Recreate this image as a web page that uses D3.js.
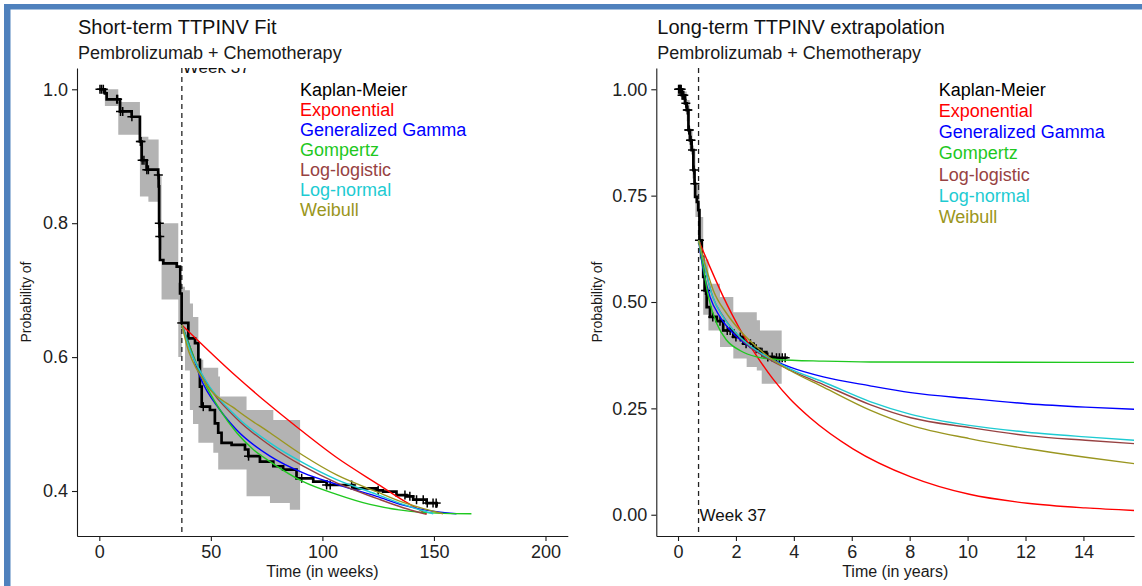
<!DOCTYPE html>
<html>
<head>
<meta charset="utf-8">
<title>TTPINV fit and extrapolation</title>
<script src="https://cdn.jsdelivr.net/npm/d3@7"></script>
<style>
  body { margin: 0; background: #fff; }
  svg { display: block; font-family: "Liberation Sans", Arial, sans-serif; }
  .axis path, .axis line { stroke: #1a1a1a; stroke-width: 1.1; }
  .axis text { font-size: 18px; fill: #222; font-family: "Liberation Sans", Arial, sans-serif; }
  .title { font-size: 20px; fill: #111; }
  .subtitle { font-size: 18px; fill: #1a1a1a; }
  .x-label { font-size: 16px; fill: #1a1a1a; text-anchor: middle; }
  .y-label { font-size: 14px; fill: #1a1a1a; text-anchor: middle; }
  .legend { font-size: 18px; }
  .band { fill: #b3b3b3; stroke: none; }
  .km { fill: none; stroke: #000; stroke-width: 2.7; }
  .censor { stroke: #000; stroke-width: 1.5; }
  .fit { fill: none; stroke-width: 1.4; }
  .cutoff { stroke: #222; stroke-width: 1.3; stroke-dasharray: 5,4; }
  .week-label { font-size: 17px; fill: #111; }
</style>
</head>
<body>
<svg id="chart"></svg>
<script>
// ---- shared ----
const modelNames = ["Exponential", "Generalized Gamma", "Gompertz", "Log-logistic", "Log-normal", "Weibull"];
const modelColors = ["#ff0000", "#0000ff", "#1fc81f", "#974242", "#1ecbd2", "#9a9620"];
const cutoffWeek = 37;
const weeksPerYear = 52.18;

// ---- left panel (weeks) ----
const leftKmTime = [0, 2.5, 3.3, 9.3, 14.5, 18.2, 19, 21.2, 26.4, 26.6, 26.8, 27.0, 27.2, 28.7, 34.7, 36.2, 36.9, 39.9, 42.9, 44.4, 45.1, 45.9, 49.6, 51.8, 53.3, 54.8, 59.3, 65.3, 66.8, 72, 78, 82.4, 88.4, 95.9, 101.9, 113.8, 124.3, 127.2, 133.2, 137.7, 140.7, 146.7, 151.2, 151.6];
const leftKmSurv = [1.0, 0.994, 0.985, 0.967, 0.959, 0.922, 0.894, 0.880, 0.872, 0.855, 0.80, 0.78, 0.745, 0.740, 0.735, 0.695, 0.651, 0.628, 0.621, 0.596, 0.556, 0.526, 0.521, 0.501, 0.487, 0.472, 0.469, 0.462, 0.452, 0.444, 0.437, 0.432, 0.419, 0.414, 0.409, 0.404, 0.401, 0.399, 0.394, 0.392, 0.387, 0.382, 0.377, 0.377];
const leftCensor = [0.3, 1.0, 1.8, 7.8, 8.2, 9.5, 10.5, 14.6, 18.4, 18.7, 19.2, 20.0, 21.3, 22.0, 26.45, 26.9, 27.1, 36.95, 46.6, 66.9, 90.7, 101.9, 103.5, 113.1, 125.0, 137.0, 139.2, 142.2, 145.2, 147.0, 149.6, 151.0];
const leftCiTime = [0, 2.5, 8.5, 18.2, 22, 26.6, 27.9, 35.4, 37, 38.4, 40.6, 42, 44.4, 46.6, 51.1, 53.3, 54.1, 66, 76.5, 78, 85.4, 90];
const leftCiLow = [1.0, 0.975, 0.932, 0.84, 0.832, 0.76, 0.686, 0.60, 0.64, 0.58, 0.521, 0.50, 0.472, 0.472, 0.457, 0.432, 0.432, 0.392, 0.382, 0.382, 0.372, 0.367];
const leftCiHigh = [1.0, 1.0, 0.981, 0.929, 0.925, 0.87, 0.80, 0.711, 0.705, 0.70, 0.68, 0.66, 0.596, 0.584, 0.584, 0.571, 0.541, 0.521, 0.521, 0.506, 0.506, 0.506];
const leftExponential = [[37, 0.648], [61.5, 0.571], [76.5, 0.528], [88.4, 0.496], [106.4, 0.450], [125.9, 0.408], [136.2, 0.386], [146.7, 0.366]];
const leftGenGamma = [[37, 0.648], [40.6, 0.616], [45.1, 0.571], [54.1, 0.521], [61.6, 0.491], [76.5, 0.452], [91.4, 0.427], [106.4, 0.410], [124.3, 0.392], [136.2, 0.379], [151.2, 0.369], [160.1, 0.366]];
const leftGompertz = [[37, 0.648], [40.6, 0.616], [46.6, 0.566], [54.1, 0.521], [61.6, 0.487], [69, 0.462], [76.5, 0.444], [91.4, 0.414], [106.4, 0.395], [121.3, 0.380], [136.2, 0.371], [151.2, 0.367], [166.8, 0.366]];
const leftLogLogistic = [[37, 0.648], [40.6, 0.612], [46.6, 0.570], [61.6, 0.508], [76.5, 0.468], [91.4, 0.437], [106.4, 0.412], [124.3, 0.389], [136.2, 0.375], [146.7, 0.365]];
const leftLogNormal = [[37, 0.648], [40.6, 0.611], [46.6, 0.571], [61.6, 0.511], [76.5, 0.472], [91.4, 0.442], [106.4, 0.417], [124.3, 0.395], [136.2, 0.380], [149.7, 0.366]];
const leftWeibull = [[37, 0.648], [39.2, 0.618], [46.6, 0.566], [61.6, 0.521], [76.5, 0.487], [91.4, 0.453], [106.4, 0.424], [124.3, 0.399], [136.2, 0.383], [154.1, 0.366]];
const leftXTicks = [0, 50, 100, 150, 200];
const leftYTicks = [0.4, 0.6, 0.8, 1.0];

// ---- right panel (years) ----
const rightKmTime = [0, 0.13, 0.24, 0.30, 0.36, 0.41, 0.47, 0.53, 0.57, 0.59, 0.65, 0.70, 0.74, 0.82, 0.87, 0.92, 0.99, 1.105, 1.34, 1.56, 1.91, 2.26, 2.60, 2.83, 3.05, 3.30, 3.75];
const rightKmSurv = [1.0, 0.986, 0.967, 0.951, 0.904, 0.880, 0.857, 0.810, 0.778, 0.747, 0.735, 0.716, 0.645, 0.606, 0.559, 0.527, 0.488, 0.465, 0.455, 0.433, 0.418, 0.402, 0.390, 0.382, 0.371, 0.369, 0.367];
const rightCensor = [0.02, 0.05, 0.08, 0.11, 0.14, 0.17, 0.2, 0.27, 0.32, 0.34, 0.37, 0.39, 0.43, 0.45, 0.5, 0.55, 0.58, 0.74, 0.95, 1.2, 1.45, 1.7, 1.8, 2.0, 2.15, 2.35, 2.5, 2.7, 2.9, 3.1, 3.25, 3.4, 3.5, 3.6, 3.7];
const rightCiTime = [0, 0.13, 0.3, 0.4, 0.5, 0.6, 0.74, 0.87, 1.05, 1.45, 1.91, 2.37, 2.72, 2.83, 2.89, 3.58];
const rightCiLow = [1.0, 0.975, 0.925, 0.855, 0.79, 0.70, 0.60, 0.47, 0.433, 0.394, 0.367, 0.347, 0.339, 0.339, 0.308, 0.308];
const rightCiHigh = [1.0, 0.995, 0.975, 0.905, 0.86, 0.78, 0.70, 0.60, 0.543, 0.512, 0.476, 0.476, 0.457, 0.433, 0.433, 0.433];
const rightExponential = [[0.71, 0.645], [1.105, 0.582], [1.565, 0.512], [2.14, 0.436], [2.72, 0.373], [3.29, 0.318], [3.87, 0.272], [4.56, 0.228], [6.04, 0.155], [8.04, 0.089], [10.06, 0.048], [12.07, 0.027], [14.07, 0.016], [15.75, 0.010]];
const rightGenGamma = [[0.71, 0.645], [0.87, 0.575], [1.105, 0.512], [1.45, 0.465], [1.91, 0.426], [2.49, 0.394], [3.18, 0.367], [3.87, 0.347], [5.02, 0.324], [6.63, 0.303], [8.04, 0.287], [10.06, 0.273], [12.07, 0.261], [14.07, 0.253], [15.75, 0.248]];
const rightGompertz = [[0.71, 0.645], [0.87, 0.582], [1.05, 0.512], [1.34, 0.449], [1.68, 0.410], [2.14, 0.386], [2.72, 0.371], [3.41, 0.365], [5.02, 0.361], [6.63, 0.359], [15.75, 0.358]];
const rightLogLogistic = [[0.71, 0.645], [0.95, 0.575], [1.2, 0.512], [1.6, 0.462], [2.14, 0.416], [2.72, 0.383], [3.29, 0.360], [3.87, 0.340], [5.02, 0.306], [6.63, 0.259], [8.04, 0.228], [10.06, 0.205], [12.07, 0.186], [14.07, 0.175], [15.75, 0.167]];
const rightLogNormal = [[0.71, 0.645], [0.93, 0.582], [1.16, 0.520], [1.56, 0.465], [2.14, 0.418], [2.72, 0.386], [3.29, 0.363], [3.87, 0.343], [5.02, 0.312], [6.63, 0.266], [8.04, 0.236], [10.06, 0.210], [12.07, 0.194], [14.07, 0.183], [15.75, 0.175]];
const rightWeibull = [[0.71, 0.645], [0.93, 0.590], [1.22, 0.527], [1.68, 0.473], [2.14, 0.433], [2.72, 0.394], [3.29, 0.363], [3.87, 0.339], [5.02, 0.300], [6.63, 0.246], [8.04, 0.210], [10.06, 0.179], [12.07, 0.155], [14.07, 0.135], [15.75, 0.120]];
const rightXTicks = [0, 2, 4, 6, 8, 10, 12, 14];
const rightYTicks = [0, 0.25, 0.5, 0.75, 1.0];

const width = 1142, height = 586;
const plotTop = 68, plotBottom = 536;

const svg = d3.select("#chart").attr("width", width).attr("height", height);

// blue frame of the screenshot
svg.append("rect").attr("x", 4).attr("y", 4).attr("width", width - 4).attr("height", 5.5).attr("fill", "#4f81bd");
svg.append("rect").attr("x", 4).attr("y", 4).attr("width", 6.5).attr("height", height - 4).attr("fill", "#4f81bd");

function drawPanel(p) {
    const x = d3.scaleLinear().domain(p.xDomain).range([p.left, p.right]);
    const y = d3.scaleLinear().domain(p.yDomain).range([plotBottom, plotTop]);
    const g = svg.append("g");

    g.append("clipPath").attr("id", p.id + "-clip")
        .append("rect")
        .attr("x", p.left).attr("y", plotTop)
        .attr("width", p.right - p.left).attr("height", plotBottom - plotTop);

    const plot = g.append("g").attr("clip-path", `url(#${p.id}-clip)`);

    // confidence band
    const band = d3.area()
        .curve(d3.curveStepAfter)
        .x(i => x(p.ciTime[i]))
        .y0(i => y(p.ciLow[i]))
        .y1(i => y(p.ciHigh[i]));
    plot.append("path")
        .datum(d3.range(p.ciTime.length))
        .attr("class", "band")
        .attr("d", band);

    // cutoff line
    plot.append("line")
        .attr("class", "cutoff")
        .attr("x1", x(p.cutoff)).attr("x2", x(p.cutoff))
        .attr("y1", plotTop).attr("y2", plotBottom);

    // Kaplan-Meier
    const km = d3.line()
        .curve(d3.curveStepAfter)
        .x(i => x(p.kmTime[i]))
        .y(i => y(p.kmSurv[i]));
    plot.append("path")
        .datum(d3.range(p.kmTime.length))
        .attr("class", "km")
        .attr("d", km);

    const survAt = t => p.kmSurv[Math.max(0, d3.bisectRight(p.kmTime, t) - 1)];
    const marks = plot.selectAll(".censor-mark")
        .data(p.censor)
        .enter()
        .append("g")
        .attr("transform", t => `translate(${x(t)},${y(survAt(t))})`);
    marks.append("line").attr("class", "censor").attr("x1", -4.5).attr("x2", 4.5);
    marks.append("line").attr("class", "censor").attr("y1", -4.5).attr("y2", 4.5);

    // fitted curves
    const fitLine = d3.line()
        .curve(d3.curveMonotoneX)
        .x(d => x(d[0]))
        .y(d => y(d[1]));
    p.fits.forEach((fit, i) => {
        plot.append("path")
            .datum(fit)
            .attr("class", "fit")
            .attr("stroke", modelColors[i])
            .attr("d", fitLine);
    });

    // cutoff label (clipped by the panel like in the original)
    plot.append("text")
        .attr("class", "week-label")
        .attr("x", x(p.cutoff) + 1)
        .attr("y", y(p.weekLabelAt) + p.weekLabelShift)
        .attr("dy", "0.35em")
        .text("Week " + cutoffWeek);

    // legend (text only)
    const legendItems = ["Kaplan-Meier"].concat(modelNames);
    const legendColors = ["#000"].concat(modelColors);
    g.selectAll(".legend-" + p.id)
        .data(legendItems)
        .enter()
        .append("text")
        .attr("class", "legend")
        .attr("x", x(p.legendX))
        .attr("y", (d, i) => y(p.legendY - i * p.legendStep))
        .attr("dy", "0.35em")
        .attr("fill", (d, i) => legendColors[i])
        .text(d => d);

    // axes
    g.append("g")
        .attr("class", "axis")
        .attr("transform", `translate(0,${plotBottom})`)
        .call(d3.axisBottom(x).tickValues(p.xTicks).tickSize(5).tickPadding(4).tickSizeOuter(0));

    g.append("g")
        .attr("class", "axis")
        .attr("transform", `translate(${p.left},0)`)
        .call(d3.axisLeft(y).tickValues(p.yTicks).tickFormat(d3.format(p.yFormat)).tickSize(5).tickPadding(4).tickSizeOuter(0));

    // titles
    g.append("text").attr("class", "title")
        .attr("x", p.left + 1).attr("y", 33.7)
        .text(p.title);
    g.append("text").attr("class", "subtitle")
        .attr("x", p.left + 1).attr("y", 58.7)
        .text("Pembrolizumab + Chemotherapy");

    g.append("text").attr("class", "x-label")
        .attr("x", (p.left + p.right) / 2).attr("y", 576.5)
        .text(p.xLabel);

    g.append("text").attr("class", "y-label")
        .attr("transform", `translate(${p.left - p.yLabelGap},${(plotTop + plotBottom) / 2}) rotate(-90)`)
        .text("Probability of");
}

drawPanel({
    id: "left",
    left: 77, right: 567.8,
    xDomain: [-10, 210], yDomain: [0.3328, 1.0318],
    xTicks: leftXTicks, yTicks: leftYTicks, yFormat: ".1f",
    kmTime: leftKmTime, kmSurv: leftKmSurv, censor: leftCensor,
    ciTime: leftCiTime, ciLow: leftCiLow, ciHigh: leftCiHigh,
    fits: [leftExponential, leftGenGamma, leftGompertz, leftLogLogistic, leftLogNormal, leftWeibull],
    cutoff: cutoffWeek, weekLabelAt: 1.0318, weekLabelShift: -1,
    legendX: 90, legendY: 1.0, legendStep: 0.03,
    yLabelGap: 46,
    title: "Short-term TTPINV Fit",
    xLabel: "Time  (in weeks)"
});

drawPanel({
    id: "right",
    left: 656.3, right: 1134.1,
    xDomain: [-0.75, 15.75], yDomain: [-0.05, 1.05],
    xTicks: rightXTicks, yTicks: rightYTicks, yFormat: ".2f",
    kmTime: rightKmTime, kmSurv: rightKmSurv, censor: rightCensor,
    ciTime: rightCiTime, ciLow: rightCiLow, ciHigh: rightCiHigh,
    fits: [rightExponential, rightGenGamma, rightGompertz, rightLogLogistic, rightLogNormal, rightWeibull],
    cutoff: cutoffWeek / weeksPerYear, weekLabelAt: 0, weekLabelShift: 0,
    legendX: 9, legendY: 1.0, legendStep: 0.05,
    yLabelGap: 54,
    title: "Long-term TTPINV extrapolation",
    xLabel: "Time  (in years)"
});
</script>
</body>
</html>
